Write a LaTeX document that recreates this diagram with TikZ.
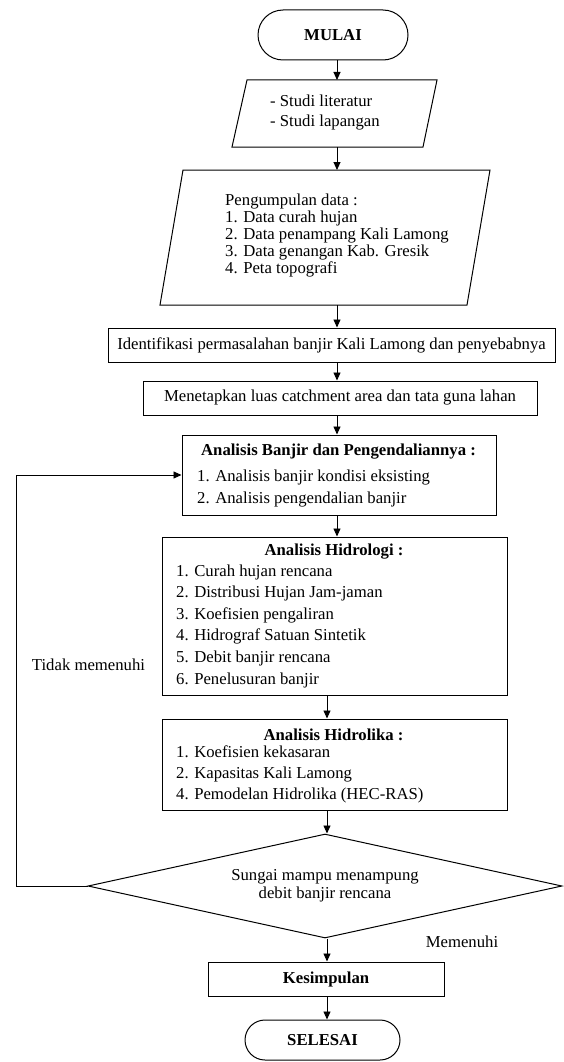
\documentclass[tikz,border=0pt]{standalone}
\usepackage{fontspec}
\setmainfont{Liberation Serif}
\usetikzlibrary{shapes.geometric,arrows.meta}
\newcommand\myfs[1]{\fontsize{16.7pt}{#1pt}\selectfont}
\begin{document}
\begin{tikzpicture}[x=1pt,y=-1pt,
  shp/.style={draw, line width=1pt, inner sep=0pt, font=\myfs{17}},
  term/.style={shp, rectangle, rounded corners=#1, font=\myfs{17}\bfseries},
  term/.default=25pt,
  paraln/.style={draw, line width=1pt, line join=miter},
  txt/.style={inner sep=0pt, align=left, font=\myfs{17}},
  ttl/.style={inner sep=0pt, font=\myfs{17}\bfseries},
  arr/.style={line width=0.9pt, -{Triangle[length=8pt,width=7pt]}},
  loopln/.style={line width=0.9pt, -{Triangle[length=8pt,width=7pt]}}
]
\useasboundingbox (0,0) rectangle (563,1062);
\fill[white] (0,0) rectangle (563,1062);

\node[term=25pt, minimum width=150pt, minimum height=50pt] (mulai) at (333,35) {MULAI};

% parallelogram 1
\coordinate (p1bl) at (232,147);
\coordinate (p1br) at (423,147);
\coordinate (p1tr) at (437,80);
\coordinate (p1tl) at (247,80);
\coordinate (p1n) at (337,80);
\coordinate (p1s) at (337,147);
\draw[paraln] (p1bl) -- (p1br) -- (p1tr) -- (p1tl) -- cycle;
\node[txt, anchor=west, font=\myfs{20}] (p1t) at (270,113) {- Studi literatur\\- Studi lapangan};

% parallelogram 2
\coordinate (p2bl) at (160,305);
\coordinate (p2br) at (467,305);
\coordinate (p2tr) at (490,170);
\coordinate (p2tl) at (183,170);
\coordinate (p2n) at (337,170);
\coordinate (p2s) at (337,305);
\draw[paraln] (p2bl) -- (p2br) -- (p2tr) -- (p2tl) -- cycle;
\node[txt, anchor=west] (p2t) at (225,236) {Pengumpulan data :\\1. Data curah hujan\\2. Data penampang Kali Lamong\\3. Data genangan Kab. Gresik\\4. Peta topografi};

\node[shp, minimum width=447pt, minimum height=34pt] (idf) at (331.5,345) {Identifikasi permasalahan banjir Kali Lamong dan penyebabnya};

\node[shp, minimum width=394pt, minimum height=34pt] (men) at (340,398) {Menetapkan luas catchment area dan tata guna lahan};

\node[shp, minimum width=314pt, minimum height=80pt] (ab) at (339,475) {};
\node[ttl] (abt) at (338.5,452) {Analisis Banjir dan Pengendaliannya :};
\node[txt, anchor=west, font=\myfs{22}] (abl) at (197,489) {1. Analisis banjir kondisi eksisting\\2. Analisis pengendalian banjir};

\node[shp, minimum width=345pt, minimum height=158pt] (hl) at (334.5,616) {};
\node[ttl] (hlt) at (334,552) {Analisis Hidrologi :};
\node[txt, anchor=west, font=\myfs{21.6}] (hll) at (176,626) {1. Curah hujan rencana\\2. Distribusi Hujan Jam-jaman\\3. Koefisien pengaliran\\4. Hidrograf Satuan Sintetik\\5. Debit banjir rencana\\6. Penelusuran banjir};

\node[shp, minimum width=345pt, minimum height=91pt] (hk) at (334.5,764.5) {};
\node[ttl] (hkt) at (333.5,735) {Analisis Hidrolika :};
\node[txt, anchor=west, font=\myfs{21}] (hkl) at (176,774) {1. Koefisien kekasaran\\2. Kapasitas Kali Lamong\\4. Pemodelan Hidrolika (HEC-RAS)};

\node[shp, diamond, aspect=4.56, minimum width=474pt, minimum height=104pt, align=center, font=\myfs{18}] (dia) at (325,886) {Sungai mampu menampung\\debit banjir rencana};

\node[shp, minimum width=236pt, minimum height=34pt, font=\myfs{17}\bfseries] (kes) at (326,979) {Kesimpulan};

\node[term=20pt, minimum width=155pt, minimum height=40pt] (sel) at (322.5,1040) {SELESAI};

\node[txt] (tm) at (88.5,665) {Tidak memenuhi};
\node[txt] (mm) at (462,942) {Memenuhi};

\coordinate (colA) at (337,0);
\coordinate (colB) at (327,0);
\coordinate (lx) at (16,0);

\draw[arr] (mulai.south -| colA) -- (p1n);
\draw[arr] (p1s) -- (p2n);
\draw[arr] (p2s) -- (idf.north -| colA);
\draw[arr] (idf.south -| colA) -- (men.north -| colA);
\draw[arr] (men.south -| colA) -- (ab.north -| colA);
\draw[arr] (ab.south -| colA) -- (hl.north -| colA);
\draw[arr] (hl.south -| colB) -- (hk.north -| colB);
\draw[arr] (hk.south -| colB) -- (dia.north -| colB);
\draw[arr] (dia.south -| colB) -- (kes.north -| colB);
\draw[arr] (kes.south -| colB) -- (sel.north -| colB);
\draw[loopln] (dia.west) -- (dia.west -| lx) |- (ab.west);
\end{tikzpicture}
\end{document}
